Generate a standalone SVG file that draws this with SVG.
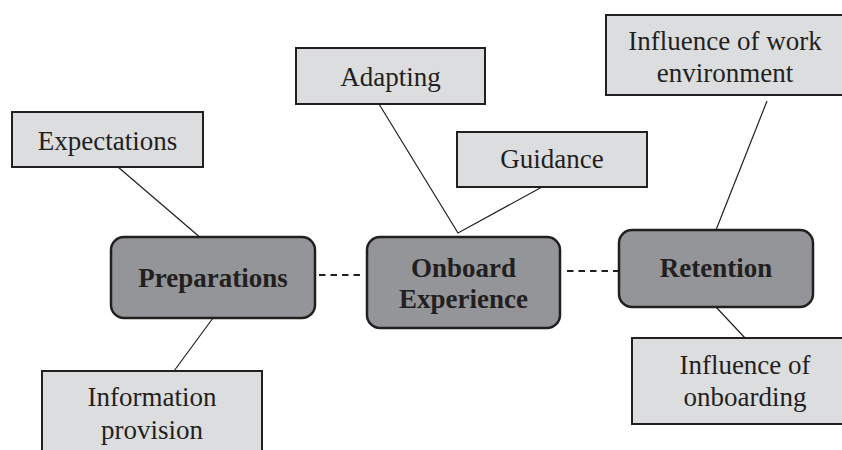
<svg xmlns="http://www.w3.org/2000/svg" width="842" height="450" viewBox="0 0 842 450">
<style>
.sub rect{fill:#dcdddf;stroke:#231f20;stroke-width:2}
.main rect{fill:#939598;stroke:#231f20;stroke-width:2.5}
text{font-family:"Liberation Serif","Times New Roman",serif;font-size:27px;fill:#231f20;text-anchor:middle}
.main text{font-weight:bold}
.link{stroke:#231f20;stroke-width:1.2;fill:none}
.dash{stroke:#231f20;stroke-width:2;stroke-dasharray:6.5 5;fill:none}
</style>
<rect width="842" height="450" fill="#ffffff"/>
<g id="connectors">
<line class="link" x1="118" y1="167" x2="202" y2="239"/>
<line class="link" x1="213" y1="318" x2="174" y2="371"/>
<polyline class="link" points="379,104 458,233 542,187"/>
<line class="link" x1="767" y1="101" x2="716" y2="230"/>
<line class="link" x1="716" y1="307" x2="745" y2="338"/>
<line class="dash" x1="319" y1="275" x2="362" y2="275"/>
<line class="dash" x1="567" y1="271" x2="618" y2="271"/>
</g>
<g id="expectations" class="sub"><rect x="12" y="112" width="191" height="55"/><text x="107.5" y="150">Expectations</text></g>
<g id="information-provision" class="sub"><rect x="42" y="371" width="220" height="90"/><text x="152" y="406">Information</text><text x="152" y="439">provision</text></g>
<g id="adapting" class="sub"><rect x="296" y="48" width="189" height="56"/><text x="390.5" y="86">Adapting</text></g>
<g id="guidance" class="sub"><rect x="457" y="132" width="190" height="55"/><text x="552" y="168">Guidance</text></g>
<g id="work-environment" class="sub"><rect x="606" y="15" width="238" height="80"/><text x="725" y="50">Influence of work</text><text x="725" y="82">environment</text></g>
<g id="influence-onboarding" class="sub"><rect x="632" y="338" width="226" height="86"/><text x="745" y="374">Influence of</text><text x="745" y="406">onboarding</text></g>
<g id="preparations" class="main"><rect x="111" y="237" width="204" height="81" rx="13"/><text x="213" y="287">Preparations</text></g>
<g id="onboard-experience" class="main"><rect x="367" y="237" width="193" height="91" rx="13"/><text x="463.5" y="277">Onboard</text><text x="463.5" y="308">Experience</text></g>
<g id="retention" class="main"><rect x="619" y="230" width="194" height="77" rx="13"/><text x="716" y="277">Retention</text></g>
</svg>
